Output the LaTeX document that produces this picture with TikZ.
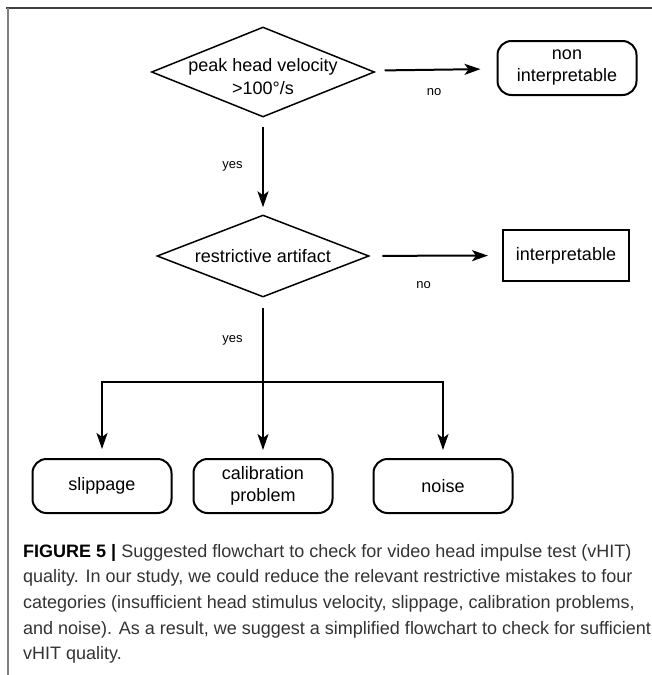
\documentclass[tikz,border=0pt]{standalone}
\usepackage{fontspec}
\setmainfont{Liberation Sans}
\usepackage{tikz}
\usetikzlibrary{arrows.meta,shapes.geometric,positioning}
\tikzset{
    %Define standard arrow tip
    >={Stealth[length=16pt,width=11pt,inset=4pt]},
    %Define style for decisions
    decision/.style={
           diamond,
           draw=black, line width=1.5pt,
           inner sep=0pt,
           minimum width=223pt,
           minimum height=90pt},
    decisiontext/.style={
           font=\fontsize{18}{23}\selectfont,
           align=center,
           inner sep=0pt},
    %Define style for boxes
    outcome/.style={
           rectangle,
           rounded corners=14pt,
           draw=black, line width=2pt,
           minimum width=139pt,
           minimum height=54pt,
           font=\fontsize{18}{22}\selectfont,
           align=center},
    outcomerect/.style={
           rectangle,
           draw=black, line width=2pt,
           minimum width=126pt,
           minimum height=51pt,
           font=\fontsize{18}{22}\selectfont},
    answer/.style={
           font=\fontsize{13}{15}\selectfont},
    % Define arrow style
    flow/.style={
           ->,
           line width=2pt}
}
\begin{document}
\begin{tikzpicture}[x=1pt,y=-1pt]
\useasboundingbox (0,0) rectangle (652,675);
% frame
\draw[black!75, line width=1.5pt] (6,8) -- (652,8);
\draw[black!50, line width=2pt] (8,8) -- (8,675);
% flowchart
\node[decision, label={[decisiontext,yshift=-4.5pt]center:{peak head velocity\\>100°/s}}](velo) at (263,72) {};
\node[outcome](noint) at (567,68) {non\\interpretable};
\node[decision, minimum width=212pt, minimum height=82pt,
      label={[decisiontext]center:{restrictive artifact}}](artif) at (263,256) {};
\node[outcomerect](inter) at (566,255.5) {interpretable};
\coordinate (split) at (263,382);
\node[outcome](slip) at (102,486) {slippage};
\node[outcome](calib) at (263,486) {calibration\\problem};
\node[outcome](noise) at (443,486) {noise};
\path[flow]
    (velo) edge[shorten <=13pt, shorten >=16pt] node[answer, below=14pt] {no} (noint)
    (velo) edge[shorten <=9pt, shorten >=7pt] node[answer, left=16pt] {yes} (artif)
    (artif) edge[shorten <=13pt, shorten >=14pt] node[answer, below=21pt, xshift=-12pt] {no} (inter);
\draw[line width=2pt, shorten <=10pt] (artif) -- node[answer, left=16pt] {yes} (split);
\draw[flow, shorten >=9pt] (split) -| (slip);
\draw[flow, shorten >=8pt] (split) -- (calib);
\draw[flow, shorten >=8pt] (split) -| (noise);
% caption
\node[anchor=north west, inner sep=0pt, align=left, text=black!80,
      font=\fontsize{18}{25.6}\selectfont](caption) at (23,544)
  {\textcolor{black}{\textbf{FIGURE 5 |}} Suggested flowchart to check for video head impulse test (vHIT)\\
   quality. In our study, we could reduce the relevant restrictive mistakes to four\\
   categories (insufficient head stimulus velocity, slippage, calibration problems,\\
   and noise). As a result, we suggest a simplified flowchart to check for sufficient\\
   vHIT quality.};
\end{tikzpicture}
\end{document}
